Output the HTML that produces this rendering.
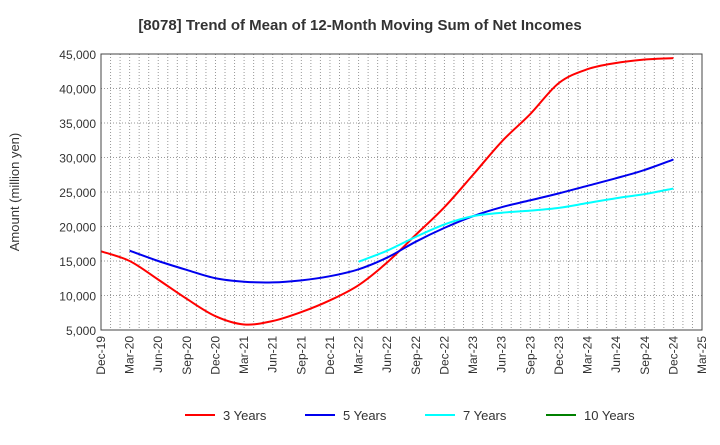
<!DOCTYPE html>
<html><head><meta charset="utf-8"><style>
body{margin:0;background:#fff;font-family:"Liberation Sans",sans-serif}
</style></head><body>
<svg id="chart" width="720" height="440" xmlns="http://www.w3.org/2000/svg" font-family="Liberation Sans, sans-serif">
<text x="360" y="30" text-anchor="middle" font-size="15" font-weight="bold" fill="#333">[8078]  Trend of Mean of 12-Month Moving Sum of Net Incomes</text>
<text transform="translate(19,192) rotate(-90)" text-anchor="middle" font-size="13" fill="#333">Amount (million yen)</text>
<g id="grid"></g><g id="series"></g><g id="axes"></g><g id="legend"></g>
</svg>
<script>
const xLabels=["Dec-19","Mar-20","Jun-20","Sep-20","Dec-20","Mar-21","Jun-21","Sep-21","Dec-21","Mar-22","Jun-22","Sep-22","Dec-22","Mar-23","Jun-23","Sep-23","Dec-23","Mar-24","Jun-24","Sep-24","Dec-24","Mar-25"];
const yTicks=[5000,10000,15000,20000,25000,30000,35000,40000,45000];
const s3=[16400,15000,12300,9500,7000,5800,6300,7600,9300,11500,14800,18800,22800,27500,32300,36300,40800,42800,43700,44200,44400];
const s5=[null,16500,15000,13700,12500,12000,11900,12200,12800,13800,15500,17800,19800,21500,22800,23800,24800,25900,27000,28200,29700];
const s7=[null,null,null,null,null,null,null,null,null,14900,16500,18500,20300,21500,22000,22300,22700,23400,24100,24700,25500];
const s10=[];
const L=101,R=702,T=54,B=330,NM=63;
const NS="http://www.w3.org/2000/svg";
const xm=m=>L+(R-L)*m/NM;
const xq=i=>xm(i*3);
const y=v=>B-(v-5000)/40000*(B-T);
function mk(tag,attrs,parent){const e=document.createElementNS(NS,tag);for(const k in attrs)e.setAttribute(k,attrs[k]);document.getElementById(parent).appendChild(e);return e;}
for(let m=1;m<NM;m++){const e=mk('line',{x1:xm(m),x2:xm(m),y1:T,y2:B,stroke:'#999','stroke-dasharray':'1,2','stroke-width':1},'grid');

}
yTicks.forEach(v=>{const g=mk('line',{x1:L,x2:R,y1:y(v),y2:y(v),stroke:'#999','stroke-dasharray':'1,2'},'grid');


const t=mk('text',{x:L-5,y:y(v)+5,'text-anchor':'end','font-size':12,fill:'#333'},'axes');t.textContent=v.toLocaleString('en-US');

});
xLabels.forEach((lab,i)=>{const t=mk('text',{transform:`translate(${xq(i)+4},${B+6}) rotate(-90)`,'text-anchor':'end','font-size':12,fill:'#333'},'axes');t.textContent=lab;

});
const fr=mk('rect',{x:L,y:T,width:R-L,height:B-T,fill:'none',stroke:'#444','stroke-width':1},'axes');


function path(arr){const p=[];arr.forEach((v,i)=>{if(v!=null)p.push([xq(i),y(v)]);});if(!p.length)return '';
let d=`M${p[0][0]},${p[0][1]}`;for(let i=0;i<p.length-1;i++){const p0=p[Math.max(0,i-1)],p1=p[i],p2=p[i+1],p3=p[Math.min(p.length-1,i+2)];
d+=` C${p1[0]+(p2[0]-p0[0])/6},${p1[1]+(p2[1]-p0[1])/6} ${p2[0]-(p3[0]-p1[0])/6},${p2[1]-(p3[1]-p1[1])/6} ${p2[0]},${p2[1]}`;}return d;}
const series=[[s3,'#ff0000','3 Years','series-3-years'],[s5,'#0000ee','5 Years','series-5-years'],[s7,'#00ffff','7 Years','series-7-years'],[s10,'#008000','10 Years','series-10-years']];
series.forEach(([a,c,n,id])=>{const d=path(a);if(d){const e=mk('path',{d:d,fill:'none',stroke:c,'stroke-width':2},'series');

}});
const lx=[185,305,425,546];
series.forEach(([a,c,n,id],i)=>{const l=mk('line',{x1:lx[i],x2:lx[i]+30,y1:415,y2:415,stroke:c,'stroke-width':2},'legend');


const t=mk('text',{x:lx[i]+38,y:420,'font-size':13,fill:'#333'},'legend');t.textContent=n;

});
</script>
</body></html>
